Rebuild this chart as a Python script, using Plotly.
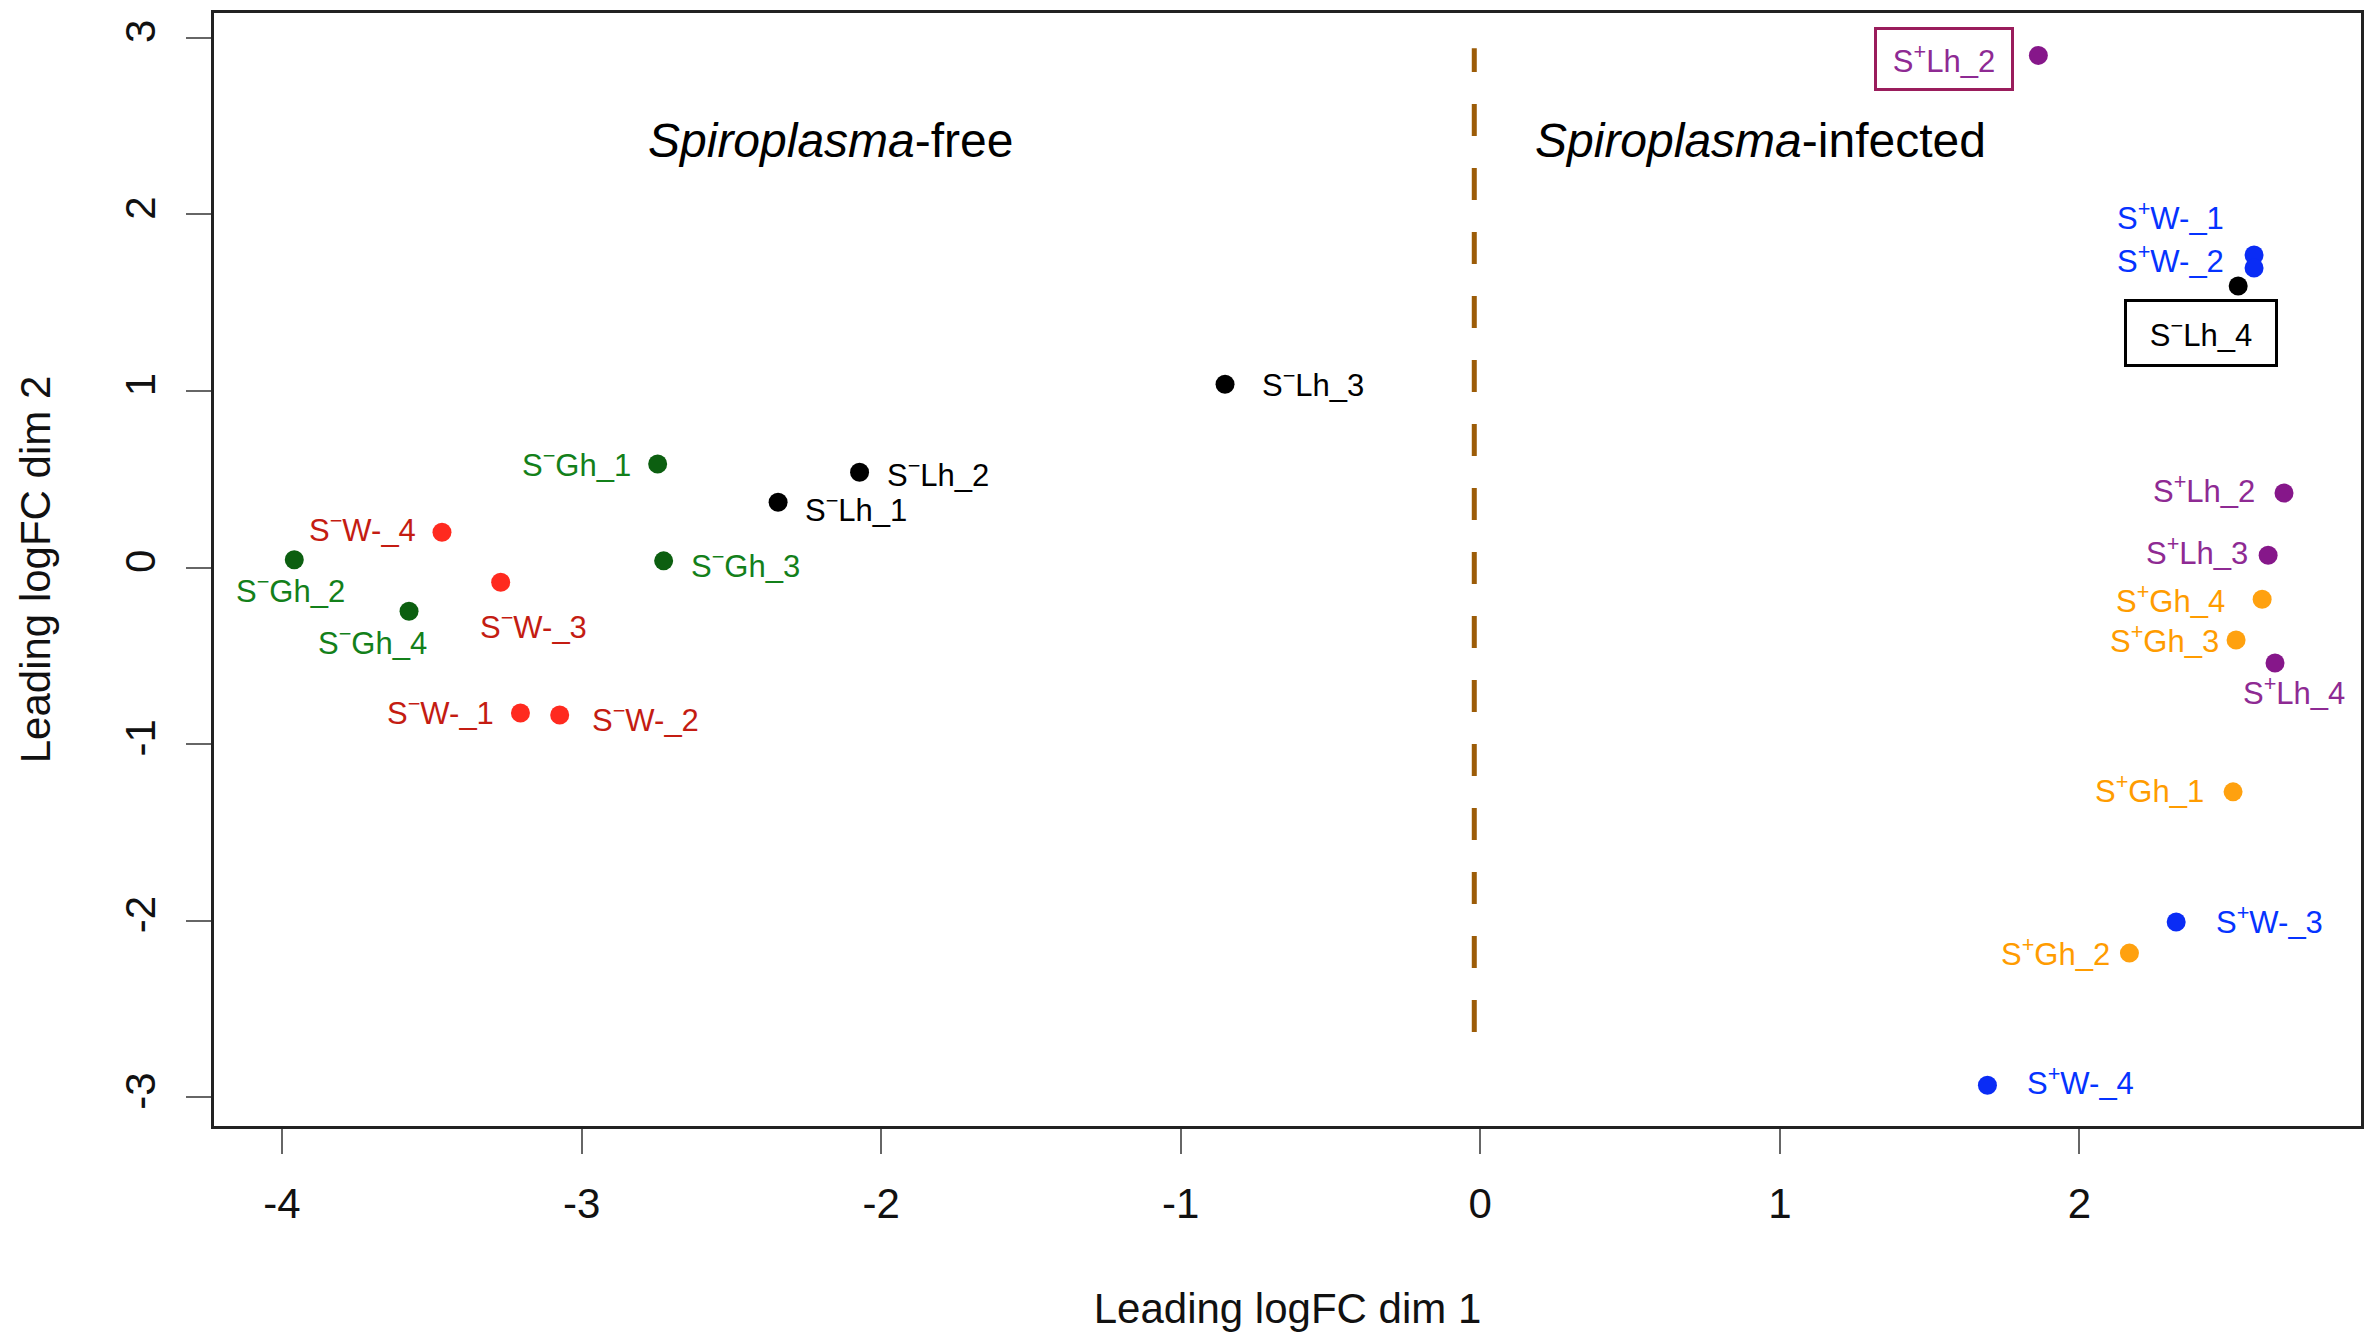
import plotly.graph_objects as go

# ---------------- data ----------------
sample_names = ["S-Gh_1", "S-Gh_2", "S-Gh_3", "S-Gh_4",
                "S-W-_1", "S-W-_2", "S-W-_3", "S-W-_4",
                "S-Lh_1", "S-Lh_2", "S-Lh_3", "S-Lh_4",
                "S+Lh_2", "S+W-_1", "S+W-_2", "S+Lh_2",
                "S+Lh_3", "S+Lh_4", "S+Gh_4", "S+Gh_3",
                "S+Gh_1", "S+Gh_2", "S+W-_3", "S+W-_4"]
sample_groups = ["S-Gh", "S-Gh", "S-Gh", "S-Gh",
                 "S-W", "S-W", "S-W", "S-W",
                 "S-Lh", "S-Lh", "S-Lh", "S-Lh",
                 "S+Lh", "S+W", "S+W", "S+Lh",
                 "S+Lh", "S+Lh", "S+Gh", "S+Gh",
                 "S+Gh", "S+Gh", "S+W", "S+W"]
dim1 = [-2.746, -3.959, -2.726, -3.576,
        -3.204, -3.073, -3.270, -3.466,
        -2.344, -2.072, -0.852, 2.530,
        1.863, 2.583, 2.583, 2.683,
        2.630, 2.653, 2.610, 2.523,
        2.513, 2.167, 2.323, 1.693]
dim2 = [0.586, 0.044, 0.038, -0.247,
        -0.824, -0.835, -0.083, 0.200,
        0.370, 0.540, 1.038, 1.594,
        2.900, 1.770, 1.696, 0.422,
        0.070, -0.540, -0.179, -0.410,
        -1.270, -2.183, -2.007, -2.931]

x_ticks = [-4, -3, -2, -1, 0, 1, 2]
x_tick_labels = ["-4", "-3", "-2", "-1", "0", "1", "2"]
y_ticks = [-3, -2, -1, 0, 1, 2, 3]
y_tick_labels = ["-3", "-2", "-1", "0", "1", "2", "3"]

divider_x = -0.02
divider_y = [-2.63, 2.94]

region_labels = ["<i>Spiroplasma</i>-free", "<i>Spiroplasma</i>-infected"]
region_x = [-2.167, 0.937]
region_y = [2.42, 2.42]

# ---------------- styles ----------------
group_order = ["S-Gh", "S-W", "S-Lh", "S+Lh", "S+Gh", "S+W"]
point_colors = {"S-Gh": "#0c5f10", "S-W": "#ff2a1f", "S-Lh": "#000000",
                "S+Lh": "#86178a", "S+Gh": "#ffa10f", "S+W": "#0a2cf5"}
label_colors = {"S-Gh": "#13801a", "S-W": "#c41c12", "S-Lh": "#000000",
                "S+Lh": "#8e2a93", "S+Gh": "#ff9c00", "S+W": "#0533ff"}

# label placement: (xanchor, xshift px, yshift px, boxed border colour or None)
label_place = [("right", -25, 1, None), ("center", -4, -29, None), ("left", 25, -3, None), ("center", -37, -30, None),
               ("right", -24, 2, None), ("left", 30, -3, None), ("center", 33, -43, None), ("right", -24, 4, None),
               ("left", 25, -6, None), ("left", 25, -1, None), ("left", 35, 1, None), ("center", -37, -47, "#000000"),
               ("center", -94, -4, "#9a1d5c"), ("right", -28, 39, None), ("right", -28, 9, None), ("right", -27, 4, None),
               ("right", -18, 4, None), ("center", 19, -28, None), ("right", -35, 0, None), ("right", -15, 1, None),
               ("right", -27, 3, None), ("right", -17, 1, None), ("left", 38, 2, None), ("left", 38, 4, None)]

FONT = "Liberation Sans, Arial, Helvetica, sans-serif"

fig = go.Figure()

for g in group_order:
    idx = [i for i, gg in enumerate(sample_groups) if gg == g]
    fig.add_trace(go.Scatter(
        x=[dim1[i] for i in idx], y=[dim2[i] for i in idx],
        mode="markers", name=g, showlegend=False,
        marker=dict(size=19, color=point_colors[g], line=dict(width=0)),
        hoverinfo="skip"))

def fmt(name):
    sign = "\u2212" if name[1] == "-" else "+"
    return "S<sup>" + sign + "</sup>" + name[2:]

annotations = []
for i, name in enumerate(sample_names):
    xa, dx, dy, box = label_place[i]
    ann = dict(x=dim1[i], y=dim2[i], xref="x", yref="y", text=fmt(name),
               showarrow=False, xanchor=xa, yanchor="middle",
               xshift=dx, yshift=dy,
               font=dict(family=FONT, size=31, color=label_colors[sample_groups[i]]))
    if box:
        ann.update(bordercolor=box, borderwidth=3, borderpad=0,
                   width=148 if sample_groups[i] == "S-Lh" else 134,
                   height=62 if sample_groups[i] == "S-Lh" else 58)
    annotations.append(ann)

for t, xx, yy in zip(region_labels, region_x, region_y):
    annotations.append(dict(x=xx, y=yy, xref="x", yref="y", text=t, showarrow=False,
                            xanchor="center", yanchor="middle",
                            font=dict(family=FONT, size=48, color="#000000")))

fig.add_shape(type="line", xref="x", yref="y",
              x0=divider_x, x1=divider_x, y0=divider_y[0], y1=divider_y[1],
              line=dict(color="#9c5c08", width=5, dash="32px,32px"))

axis_common = dict(showgrid=False, zeroline=False, showline=True, linecolor="#222222",
                   linewidth=3, mirror=True, ticks="outside", ticklen=25, tickwidth=2,
                   tickcolor="#666666", ticklabelstandoff=14,
                   tickfont=dict(family=FONT, size=42, color="#111111"))

fig.update_layout(
    width=2367, height=1333,
    margin=dict(l=214, r=3, t=13, b=207),
    paper_bgcolor="white", plot_bgcolor="white",
    annotations=annotations,
    xaxis=dict(range=[-4.227, 2.94], tickvals=x_ticks, ticktext=x_tick_labels,
               title=dict(text="Leading logFC dim 1", font=dict(family=FONT, size=42, color="#111111"),
                          standoff=68),
               **axis_common),
    yaxis=dict(range=[-3.162, 3.14], tickvals=y_ticks, ticktext=y_tick_labels, tickangle=-90,
               title=dict(text="Leading logFC dim 2", font=dict(family=FONT, size=42, color="#111111"),
                          standoff=54),
               **axis_common),
)

fig.write_html("out.html")
